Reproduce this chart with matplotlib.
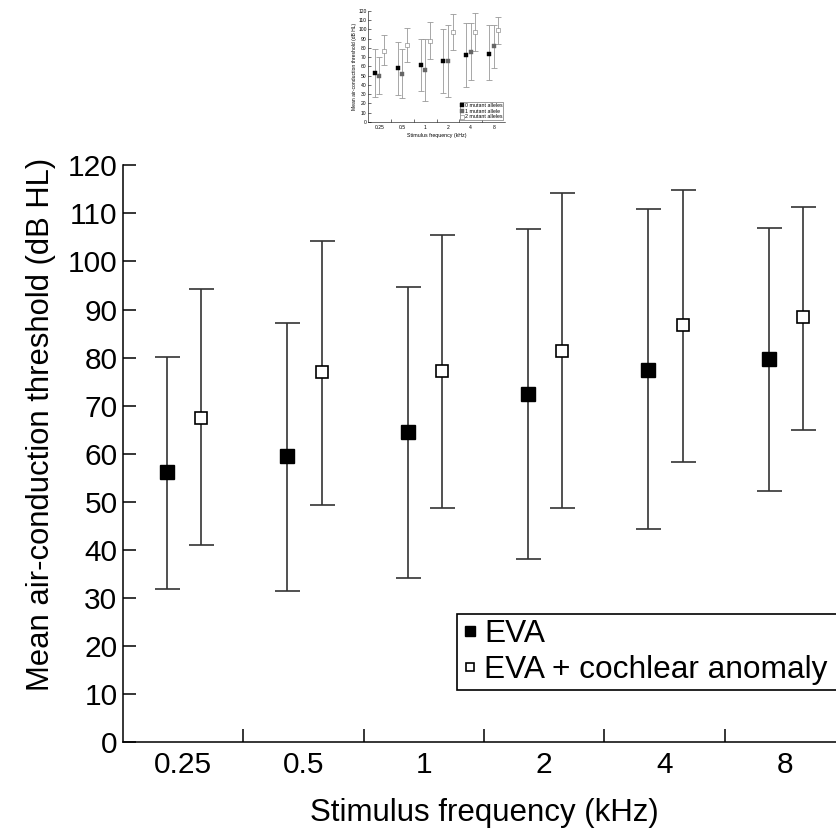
import matplotlib
matplotlib.use('Agg')
import matplotlib.pyplot as plt
import numpy as np

plt.rcParams['font.family'] = ['Liberation Sans', 'DejaVu Sans']

# –æ—Å–Ω–æ–≤–Ω–æ–π –≥—Ä–∞—Ñ–∏–∫
freqs = ['0.25', '0.5', '1', '2', '4', '8']
eva_mean = [56.2, 59.5, 64.6, 72.4, 77.5, 79.8]
eva_low = [31.8, 31.5, 34.2, 38.1, 44.3, 52.3]
eva_high = [80.1, 87.3, 94.7, 106.8, 110.9, 107.0]
coch_mean = [67.5, 77.0, 77.3, 81.4, 86.8, 88.5]
coch_low = [41.0, 49.4, 48.7, 48.7, 58.3, 64.9]
coch_high = [94.2, 104.3, 105.6, 114.2, 114.9, 111.3]

# –º–∞–ª–µ–Ω—å–∫–∞—è –∫–∞—Ä—Ç–∏–Ω–∫–∞ —Å–≤–µ—Ä—Ö—É
a0_mean = [53.2, 58.0, 61.0, 65.8, 71.9, 73.0]
a0_low = [27.3, 29.0, 34.0, 31.6, 37.4, 45.3]
a0_high = [78.3, 86.6, 89.5, 100.0, 106.7, 104.6]
a1_mean = [50.0, 52.0, 56.4, 65.8, 75.8, 81.6]
a1_low = [30.0, 25.5, 23.0, 26.6, 45.0, 58.6]
a1_high = [70.0, 78.7, 89.0, 104.5, 106.7, 104.6]
a2_mean = [77.0, 83.0, 87.7, 97.0, 97.0, 98.8]
a2_low = [61.4, 64.7, 67.5, 78.0, 76.9, 83.7]
a2_high = [93.4, 101.0, 108.0, 116.0, 117.9, 112.8]


def draw_series(ax, x, mean, low, high, ecolor, lw, cap, ms, mfc, mec, mew, label):
    mean = np.array(mean)
    yerr = [mean - np.array(low), np.array(high) - mean]
    ax.errorbar(x, mean, yerr=yerr, fmt='none', ecolor=ecolor, elinewidth=lw,
                capsize=cap, capthick=lw, zorder=2)
    ax.plot(x, mean, linestyle='none', marker='s', markersize=ms,
            markerfacecolor=mfc, markeredgecolor=mec, markeredgewidth=mew,
            label=label, zorder=3)


def style_axes(ax, fs, tick_len, pad_x, pad_y, lw):
    ax.set_xlim(0, 6)
    ax.set_ylim(0, 120)
    ax.set_yticks(np.arange(0, 121, 10))
    ax.set_xticks(np.arange(6) + 0.5)
    ax.set_xticklabels(freqs)
    ax.set_xticks(np.arange(1, 6), minor=True)
    ax.spines['top'].set_visible(False)
    ax.spines['right'].set_visible(False)
    ax.spines['left'].set_linewidth(lw)
    ax.spines['bottom'].set_linewidth(lw)
    ax.tick_params(axis='x', which='major', length=0, labelsize=fs, pad=pad_x)
    ax.tick_params(axis='x', which='minor', direction='in', length=tick_len, width=lw)
    ax.tick_params(axis='y', direction='in', length=tick_len, width=lw,
                   labelsize=fs, pad=pad_y)


fig = plt.figure(figsize=(8.37, 8.33), dpi=100)

ax = fig.add_axes([0.147, 0.1089, 0.8626, 0.6927])
x = np.arange(6) + 0.5
draw_series(ax, x - 0.135, eva_mean, eva_low, eva_high, '#333333', 1.2, 9, 9.5,
            'black', 'black', 1.0, 'EVA')
draw_series(ax, x + 0.15, coch_mean, coch_low, coch_high, '#333333', 1.2, 9, 9.0,
            'white', 'black', 1.2, 'EVA + cochlear anomaly')
style_axes(ax, 21.5, 9.4, 6, 4, 1.1)
ax.set_xlabel('Stimulus frequency (kHz)', fontsize=22.5, labelpad=14)
ax.set_ylabel('Mean air-conduction threshold (dB HL)', fontsize=22.3)
ax.yaxis.set_label_coords(-0.093, 0.55)
# —Ä–∞–º–∫–∞ –ª–µ–≥–µ–Ω–¥—ã —É—Ö–æ–¥–∏—Ç –∑–∞ –ø—Ä–∞–≤—ã–π –∫—Ä–∞–π, –∫–∞–∫ –≤ –æ—Ä–∏–≥–∏–Ω–∞–ª–µ
leg = ax.legend(loc='upper left', bbox_to_anchor=(0.546, 0.263, 0.47, 0),
                bbox_transform=fig.transFigure, mode='expand', fontsize=22.8,
                markerscale=0.7, handlelength=0.5, handletextpad=0.2, borderpad=0.15,
                labelspacing=0.2, borderaxespad=0, fancybox=False, framealpha=1)
leg.get_frame().set_edgecolor('black')
leg.get_frame().set_linewidth(1.2)

# –º–∏–Ω–∏–∞—Ç—é—Ä–∞
ins = fig.add_axes([0.4397, 0.8535, 0.1637, 0.1336])
draw_series(ins, x - 0.2, a0_mean, a0_low, a0_high, '#999999', 0.6, 2.5, 2.3,
            'black', 'black', 0.3, '0 mutant alleles')
draw_series(ins, x, a1_mean, a1_low, a1_high, '#999999', 0.6, 2.5, 2.3,
            '#666666', '#666666', 0.3, '1 mutant allele')
draw_series(ins, x + 0.2, a2_mean, a2_low, a2_high, '#999999', 0.6, 2.5, 2.3,
            'white', '#777777', 0.4, '2 mutant alleles')
style_axes(ins, 3.6, 2, 2, 1, 0.4)
ins.set_xlabel('Stimulus frequency (kHz)', fontsize=3.8, labelpad=2)
ins.set_ylabel('Mean air-conduction threshold (dB HL)', fontsize=3.6, labelpad=1)
leg2 = ins.legend(loc='lower right', fontsize=3.8, handlelength=0.5,
                  handletextpad=0.2, borderpad=0.2, labelspacing=0.1,
                  borderaxespad=0.3, fancybox=False, framealpha=1)
leg2.get_frame().set_edgecolor('#555555')
leg2.get_frame().set_linewidth(0.4)

fig.savefig('out.png', dpi=100)
